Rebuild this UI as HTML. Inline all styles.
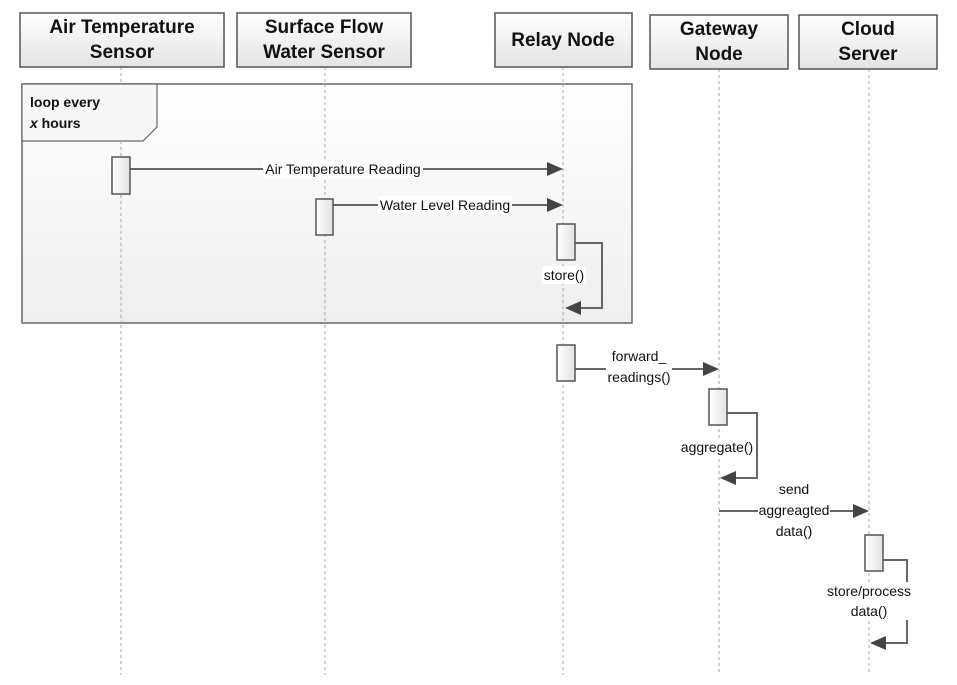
<!DOCTYPE html>
<html><head><meta charset="utf-8"><style>
html,body{margin:0;padding:0;background:#fff;}
svg{display:block;}
text{font-family:"Liberation Sans",Arial,sans-serif;fill:#111;}
.h{font-size:19px;font-weight:bold;}
.m{font-size:14px;}
</style></head><body>
<svg width="957" height="685" viewBox="0 0 957 685" xmlns="http://www.w3.org/2000/svg">
<defs>
<linearGradient id="g" x1="0" y1="0" x2="0" y2="1"><stop offset="0" stop-color="#ffffff"/><stop offset="1" stop-color="#e4e4e4"/></linearGradient>
<linearGradient id="f" x1="0" y1="0" x2="0" y2="1"><stop offset="0" stop-color="#ffffff"/><stop offset="1" stop-color="#ececec"/></linearGradient>
<linearGradient id="a" x1="0" y1="0" x2="1" y2="0"><stop offset="0" stop-color="#ffffff"/><stop offset="1" stop-color="#e2e2e2"/></linearGradient>
</defs>
<g stroke="#aaa" stroke-width="1" stroke-dasharray="3,3">
<line x1="121" y1="67" x2="121" y2="675"/>
<line x1="325" y1="67" x2="325" y2="675"/>
<line x1="563" y1="67" x2="563" y2="675"/>
<line x1="719" y1="69" x2="719" y2="675"/>
<line x1="869" y1="69" x2="869" y2="675"/>
</g>
<g stroke="#555" stroke-width="1.5" fill="url(#g)">
<rect x="20" y="13" width="204" height="54"/>
<rect x="237" y="13" width="174" height="54"/>
<rect x="495" y="13" width="137" height="54"/>
<rect x="650" y="15" width="138" height="54"/>
<rect x="799" y="15" width="138" height="54"/>
</g>
<text class="h" x="122" y="33" text-anchor="middle">Air Temperature</text>
<text class="h" x="122" y="58" text-anchor="middle">Sensor</text>
<text class="h" x="324" y="33" text-anchor="middle">Surface Flow</text>
<text class="h" x="324" y="58" text-anchor="middle">Water Sensor</text>
<text class="h" x="563" y="46" text-anchor="middle">Relay Node</text>
<text class="h" x="719" y="35" text-anchor="middle">Gateway</text>
<text class="h" x="719" y="60" text-anchor="middle">Node</text>
<text class="h" x="868" y="35" text-anchor="middle">Cloud</text>
<text class="h" x="868" y="60" text-anchor="middle">Server</text>
<rect x="22" y="84" width="610" height="239" fill="url(#f)" fill-opacity="0.85" stroke="#666" stroke-width="1.5"/>
<path d="M22 84 H157 V127 L143 141 H22 Z" fill="#f7f7f7" stroke="#666" stroke-width="1.2"/>
<line x1="121" y1="141" x2="121" y2="323" stroke="#aaa" stroke-dasharray="3,3"/>
<line x1="325" y1="84" x2="325" y2="323" stroke="#aaa" stroke-dasharray="3,3"/>
<line x1="563" y1="84" x2="563" y2="323" stroke="#aaa" stroke-dasharray="3,3"/>
<text x="30" y="107" style="font-size:14px;font-weight:bold">loop every</text>
<text x="30" y="128" style="font-size:14px;font-weight:bold"><tspan font-style="italic">x</tspan> hours</text>
<g stroke="#666" stroke-width="2" fill="none">
<line x1="130" y1="169" x2="550" y2="169"/>
<line x1="333" y1="205" x2="550" y2="205"/>
<polyline points="575,243 602,243 602,308 576,308"/>
<line x1="575" y1="369" x2="706" y2="369"/>
<polyline points="727,413 757,413 757,478 733,478"/>
<line x1="719" y1="511" x2="856" y2="511"/>
<polyline points="883,560 907,560 907,643 883,643"/>
</g>
<g fill="#444">
<polygon points="563,169 547,162 547,176"/>
<polygon points="563,205 547,198 547,212"/>
<polygon points="565,308 581,301 581,315"/>
<polygon points="719,369 703,362 703,376"/>
<polygon points="720,478 736,471 736,485"/>
<polygon points="869,511 853,504 853,518"/>
<polygon points="870,643 886,636 886,650"/>
</g>
<g stroke="#555" stroke-width="1.5" fill="url(#a)">
<rect x="112" y="157" width="18" height="37"/>
<rect x="316" y="199" width="17" height="36"/>
<rect x="557" y="224" width="18" height="36"/>
<rect x="557" y="345" width="18" height="36"/>
<rect x="709" y="389" width="18" height="36"/>
<rect x="865" y="535" width="18" height="36"/>
</g>
<rect x="263" y="160" width="160" height="18" fill="#fff"/>
<text class="m" x="343" y="174" text-anchor="middle">Air Temperature Reading</text>
<rect x="378" y="196" width="134" height="18" fill="#fff"/>
<text class="m" x="445" y="210" text-anchor="middle">Water Level Reading</text>
<rect x="542" y="266" width="44" height="18" fill="#fff"/>
<text class="m" x="564" y="280" text-anchor="middle">store()</text>
<rect x="606" y="347" width="66" height="40" fill="#fff"/>
<text class="m" x="639" y="361" text-anchor="middle">forward_</text>
<text class="m" x="639" y="382" text-anchor="middle">readings()</text>
<rect x="680" y="438" width="74" height="18" fill="#fff"/>
<text class="m" x="717" y="452" text-anchor="middle">aggregate()</text>
<rect x="758" y="502" width="72" height="16" fill="#fff"/>
<text class="m" x="794" y="494" text-anchor="middle">send</text>
<text class="m" x="794" y="515" text-anchor="middle">aggreagted</text>
<text class="m" x="794" y="536" text-anchor="middle">data()</text>
<rect x="826" y="582" width="86" height="38" fill="#fff"/>
<text class="m" x="869" y="596" text-anchor="middle">store/process</text>
<text class="m" x="869" y="616" text-anchor="middle">data()</text>
</svg>
</body></html>
